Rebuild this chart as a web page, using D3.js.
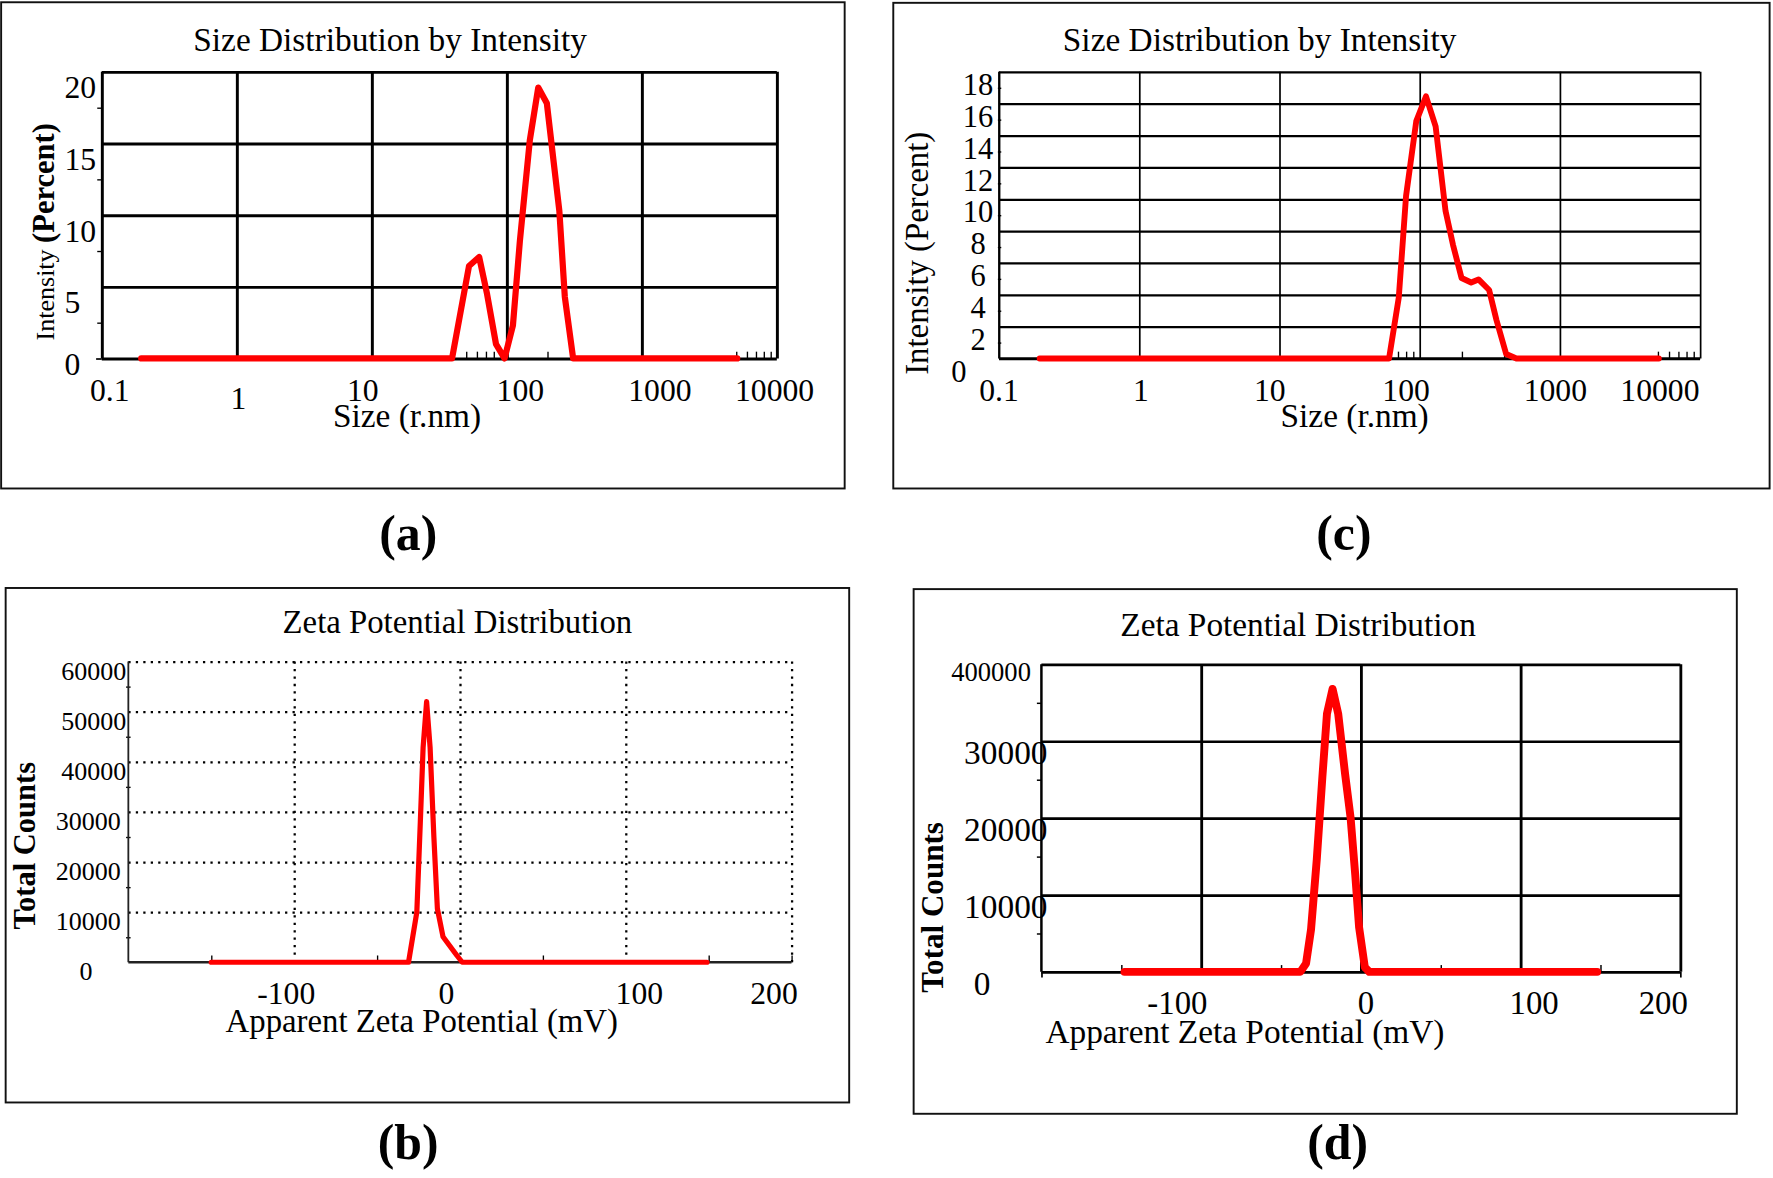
<!DOCTYPE html>
<html>
<head>
<meta charset="utf-8">
<script src="https://cdn.jsdelivr.net/npm/d3@7/dist/d3.min.js"></script>
<style>
  body { margin: 0; background: #fff; }
  text { font-family: "Liberation Serif", "Times New Roman", serif; fill: #000; }
</style>
</head>
<body>
<svg id="fig" width="1773" height="1178"></svg>
<script>
// values

// (a) size distribution, first sample
var sizeTicks = [0.1, 1, 10, 100, 1000, 10000]
var sizeTickLabels = ['0.1', '1', '10', '100', '1000', '10000']
var sizeA = [0.196, 39.3, 52.5, 62.4, 71.4, 83.2, 96.2, 111, 125, 148, 171, 198, 245, 269, 310, 5090]
var intensityA = [0, 0, 6.45, 7.08, 4.5, 1.0, 0, 2.3, 8.2, 15.2, 18.9, 17.8, 10.3, 4.3, 0, 0]
var intensityTicksA = [0, 5, 10, 15, 20]

// (c) size distribution, second sample
var sizeC = [0.195, 60.5, 71, 80, 94.6, 111, 130, 153, 173, 199, 233, 263, 313, 353, 414, 490, 5080]
var intensityC = [0, 0, 3.83, 10.2, 14.9, 16.46, 14.57, 9.26, 7.13, 5.05, 4.77, 4.96, 4.3, 2.41, 0.28, 0, 0]
var intensityTicksC = [0, 2, 4, 6, 8, 10, 12, 14, 16, 18]

// (b) zeta potential, first sample
var zetaTicks = [-100, 0, 100, 200]
var zetaB = [-150, -31, -26, -23.9, -22.2, -20.1, -18, -15.7, -13.6, -10.2, -4.4, -1.7, 1.4, 149]
var countsB = [0, 0, 10000, 27900, 42900, 52000, 42900, 24900, 10700, 5100, 2500, 1300, 0, 0]
var countsTicksB = [0, 10000, 20000, 30000, 40000, 50000, 60000]

// (d) zeta potential, second sample
var zetaD = [-148, -37.9, -34.3, -31.2, -27.6, -24.1, -21.2, -17.7, -14.2, -9.9, -6.4, -3.5, -1.1, 2.5, 5.3, 148]
var countsD = [0, 0, 1100, 5500, 14600, 25300, 33600, 36800, 33600, 25800, 20000, 12600, 5800, 600, 0, 0]
var countsTicksD = [0, 10000, 20000, 30000, 40000]
var countsLabelsD = ['0', '10000', '20000', '30000', '400000']

var k = 1773 / 1568
var root = d3.select('#fig').append('g').attr('transform', 'scale(' + k + ')')

function addText(g, x, y, s, size, opt) {
  opt = opt || {}
  var t = g.append('text').attr('x', x).attr('y', y)
    .attr('text-anchor', opt.anchor || 'middle')
    .attr('font-size', size)
  if (opt.bold) t.attr('font-weight', 'bold')
  if (opt.rotate) t.attr('transform', 'rotate(-90,' + x + ',' + y + ')')
  return t.text(s)
}

function frame(x0, y0, x1, y1) {
  root.append('rect').attr('x', x0).attr('y', y0)
    .attr('width', x1 - x0).attr('height', y1 - y0)
    .attr('fill', 'none').attr('stroke', '#111').attr('stroke-width', 1.7)
}

// draw an axis as plain lines (grid or ticks), no domain path, no labels
function lines(g, axis, tx, ty, width, dash) {
  var a = g.append('g').attr('transform', 'translate(' + tx + ',' + ty + ')')
    .call(axis.tickFormat(''))
  a.select('.domain').remove()
  a.selectAll('line').attr('stroke', '#000').attr('stroke-width', width)
    .attr('stroke-dasharray', dash || null)
  return a
}

function curve(g, x, y, xs, ys, w) {
  var line = d3.line()
    .x(function(d) { return x(d[0]) })
    .y(function(d) { return y(d[1]) })
  g.append('path').datum(d3.zip(xs, ys)).attr('d', line)
    .attr('fill', 'none').attr('stroke', '#ff0000').attr('stroke-width', w)
    .attr('stroke-linejoin', 'round').attr('stroke-linecap', 'round')
}

// ---------- (a) ----------
;(function() {
  var L = 90, R = 687, T = 63.5, B = 317
  frame(1, 2, 747, 432)
  var g = root.append('g')
  var x = d3.scaleLog().domain([0.1, 10000]).range([L, R])
  var y = d3.scaleLinear().domain([0, 20]).range([B, T])

  lines(g, d3.axisBottom(x).tickValues(sizeTicks).tickSize(-(B - T)), 0, B, 2.6)
  lines(g, d3.axisLeft(y).tickValues(intensityTicksA).tickSize(-(R - L)), L, 0, 2.6)
  lines(g, d3.axisLeft(y).tickValues([2.5, 7.5, 12.5, 17.5]).tickSize(4), L, 0, 1.2)
  lines(g, d3.axisLeft(y).tickValues([0]).tickSize(5), L, 0, 1.5)
  lines(g, d3.axisBottom(x).tickValues([40, 50, 60, 70, 80, 90, 200, 5000, 6000, 7000, 8000, 9000]).tickSize(-6), 0, B, 1.2)

  var xOff = [7, 1.5, -8, 12, 16, -2]
  sizeTicks.forEach(function(v, i) {
    addText(g, x(v) + xOff[i], v === 1 ? 362 : 355, sizeTickLabels[i], 28)
  })
  intensityTicksA.forEach(function(v) {
    addText(g, 57, v === 0 ? y(v) + 15 : y(v) + 23.5, String(v), 28, { anchor: 'start' })
  })

  addText(g, 345, 45, 'Size Distribution by Intensity', 29.5)
  addText(g, 360, 378, 'Size (r.nm)', 29.5)
  var yt = g.append('text').attr('text-anchor', 'middle')
    .attr('transform', 'translate(48,205) rotate(-90)')
  yt.append('tspan').attr('font-size', 23).text('Intensity ')
  yt.append('tspan').attr('font-size', 27).attr('font-weight', 'bold').text('(Percent)')

  curve(g, x, y, sizeA, intensityA, 5.5)
  addText(root, 361, 486, '(a)', 44, { bold: true })
})()

// ---------- (c) ----------
;(function() {
  var L = 883.5, R = 1503.5, T = 63.5, B = 317
  frame(790, 2.5, 1565, 432)
  var g = root.append('g')
  var x = d3.scaleLog().domain([0.1, 10000]).range([L, R])
  var y = d3.scaleLinear().domain([0, 18]).range([B, T])
  // tick marks and labels sit half a grid step below their grid line
  var half = (y(0) - y(2)) / 2

  lines(g, d3.axisBottom(x).tickValues(sizeTicks).tickSize(-(B - T)), 0, B, 1.5)
  lines(g, d3.axisLeft(y).tickValues(intensityTicksC).tickSize(-(R - L)), L, 0, 2)
  lines(g, d3.axisLeft(y).tickValues(intensityTicksC.slice(1)).tickSize(3), L + 2, half, 1.2)
  lines(g, d3.axisBottom(x).tickValues([70, 80, 90, 200, 400, 5000, 6000, 7000, 8000, 9000]).tickSize(-6), 0, B, 1.2)
  g.append('line').attr('x1', L).attr('x2', L).attr('y1', T).attr('y2', B)
    .attr('stroke', '#000').attr('stroke-width', 1.6)
  g.append('line').attr('x1', L).attr('x2', R).attr('y1', B).attr('y2', B)
    .attr('stroke', '#000').attr('stroke-width', 2.2)

  var xOff = [0, 1.5, -8.5, -12, -4, -35.5]
  sizeTicks.forEach(function(v, i) {
    addText(g, x(v) + xOff[i], 355, sizeTickLabels[i], 28)
  })
  intensityTicksC.forEach(function(v) {
    addText(g, v === 0 ? 848 : 865, y(v) + 20.5, String(v), 27)
  })

  addText(g, 1114, 45, 'Size Distribution by Intensity', 29.5)
  addText(g, 1198, 378, 'Size (r.nm)', 29.5)
  addText(g, 821, 224, 'Intensity (Percent)', 29, { rotate: true })

  curve(g, x, y, sizeC, intensityC, 5.2)
  addText(root, 1188.5, 486, '(c)', 44, { bold: true })
})()

// ---------- (b) ----------
;(function() {
  var L = 113.5, R = 700, T = 585, B = 851
  frame(5, 520, 751, 975)
  var g = root.append('g')
  var x = d3.scaleLinear().domain([-200, 200]).range([L, R])
  var y = d3.scaleLinear().domain([0, 60000]).range([B, T])

  lines(g, d3.axisBottom(x).tickValues(zetaTicks).tickSize(-(B - T)), 0, B, 2, '2,4.6')
  lines(g, d3.axisLeft(y).tickValues(countsTicksB.slice(1)).tickSize(-(R - L)), L, 0, 2, '2,4.6')
  lines(g, d3.axisLeft(y).tickValues([5000, 15000, 25000, 35000, 45000, 55000]).tickSize(4), L + 2, 0, 1.2)
  lines(g, d3.axisBottom(x).tickValues([-150, -50, 50, 150, 200]).tickSize(-6), 0, B, 1.2)
  g.append('line').attr('x1', L).attr('x2', L).attr('y1', T).attr('y2', B)
    .attr('stroke', '#222').attr('stroke-width', 1.6)
  g.append('line').attr('x1', L).attr('x2', R).attr('y1', B).attr('y2', B)
    .attr('stroke', '#222').attr('stroke-width', 2.2)

  var xOff = [-7, -12, 12, -15.5]
  zetaTicks.forEach(function(v, i) {
    addText(g, x(v) + xOff[i], 888, String(v), 28)
  })
  countsTicksB.forEach(function(v) {
    addText(g, v === 0 ? 76 : (v >= 40000 ? 83 : 78), y(v) + 16, String(v), 23)
  })

  addText(g, 404.5, 560, 'Zeta Potential Distribution', 29)
  addText(g, 373, 913, 'Apparent Zeta Potential (mV)', 29)
  addText(g, 31, 748, 'Total Counts', 27, { rotate: true, bold: true })

  curve(g, x, y, zetaB, countsB, 4.6)
  addText(root, 361, 1025, '(b)', 44, { bold: true })
})()

// ---------- (d) ----------
;(function() {
  var L = 921, R = 1486, T = 587.5, B = 859.5
  frame(808, 521, 1536, 985)
  var g = root.append('g')
  var x = d3.scaleLinear().domain([-200, 200]).range([L, R])
  var y = d3.scaleLinear().domain([0, 40000]).range([B, T])

  lines(g, d3.axisBottom(x).tickValues(zetaTicks).tickSize(-(B - T)), 0, B, 2.5)
  lines(g, d3.axisLeft(y).tickValues(countsTicksD).tickSize(-(R - L)), L, 0, 2.4)
  lines(g, d3.axisLeft(y).tickValues([5000, 15000, 25000, 35000]).tickSize(4), L, 0, 1.3)
  lines(g, d3.axisBottom(x).tickValues([-150, -50, 50, 150]).tickSize(-6), 0, B, 1.3)
  lines(g, d3.axisBottom(x).tickValues([-200, 200]).tickSize(5), 0, B, 1.5)
  g.append('line').attr('x1', L).attr('x2', L).attr('y1', T).attr('y2', B)
    .attr('stroke', '#000').attr('stroke-width', 2.2)

  var xOff = [-21, 4.5, 12, -15]
  zetaTicks.forEach(function(v, i) {
    addText(g, x(v) + xOff[i], 896.5, String(v), 29)
  })
  countsTicksD.forEach(function(v, i) {
    if (v === 40000) addText(g, 876.5, y(v) + 15, countsLabelsD[i], 23.5)
    else addText(g, v === 0 ? 868.5 : 889.5, y(v) + 20.5, countsLabelsD[i], 29.5)
  })

  addText(g, 1148, 562.5, 'Zeta Potential Distribution', 29.5)
  addText(g, 1101, 922.5, 'Apparent Zeta Potential (mV)', 29.5)
  addText(g, 834, 802.5, 'Total Counts', 27.5, { rotate: true, bold: true })

  curve(g, x, y, zetaD, countsD, 7)
  addText(root, 1183, 1025, '(d)', 44, { bold: true })
})()
</script>
</body>
</html>
